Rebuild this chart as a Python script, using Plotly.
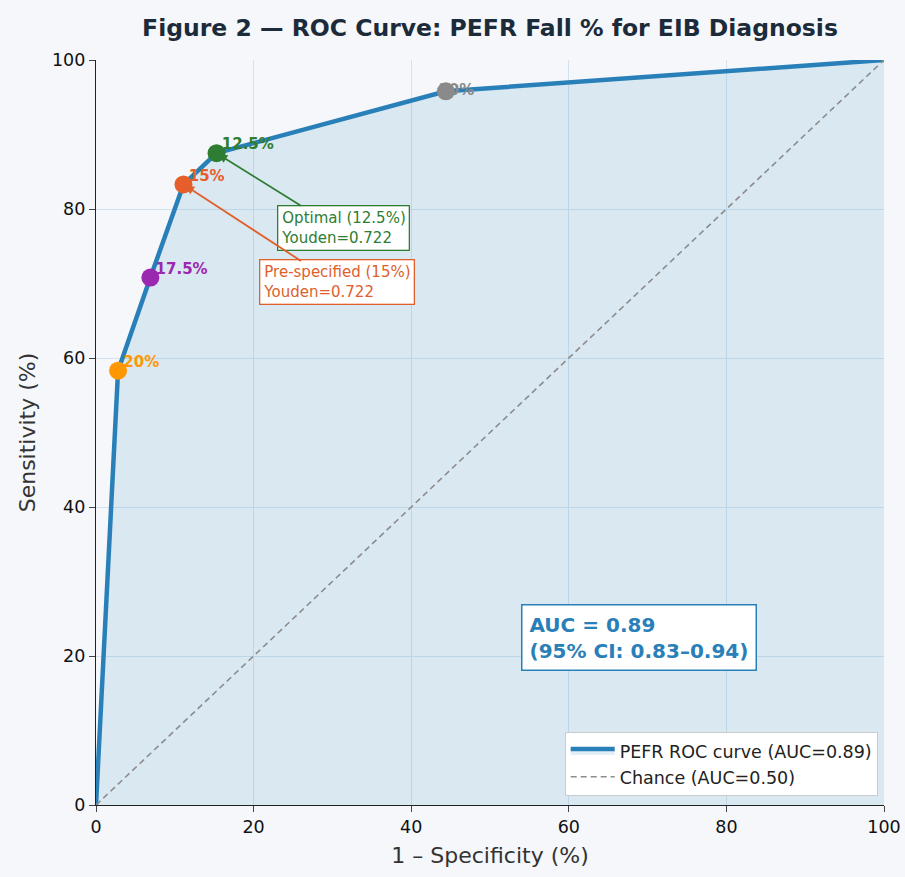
import plotly.graph_objects as go

# ROC data (1 - specificity %, sensitivity %)
roc_fpr = [0, 2.8, 6.9, 11.1, 15.3, 44.4, 100]
roc_tpr = [0, 58.3, 70.8, 83.3, 87.5, 95.8, 100]

# Threshold points
NB = "\u00a0"
thr_labels = [NB + "20%", NB + "17.5%", NB + "15%", NB + "12.5%", NB * 4 + "10%"]
thr_fpr = [2.8, 6.9, 11.1, 15.3, 44.4]
thr_tpr = [58.3, 70.8, 83.3, 87.5, 95.8]
thr_colors = ["#ff9800", "#9c27b0", "#e65f2b", "#2e7d32", "#8a8a8a"]
thr_textpos = ["top right", "top right", "top right", "top right", "middle center"]

chance_x = [0, 100]
chance_y = [0, 100]

x_ticks = [0, 20, 40, 60, 80, 100]
y_ticks = [0, 20, 40, 60, 80, 100]

FONT = "DejaVu Sans"
BLUE = "#2980b9"
GREEN = "#2e7d32"
ORANGE = "#e0602b"

fig = go.Figure()

fig.add_trace(go.Scatter(
    x=roc_fpr, y=roc_tpr, mode="lines",
    line=dict(color=BLUE, width=4.5),
    fill="tozeroy", fillcolor="rgba(41,128,185,0.13)",
    name="PEFR ROC curve (AUC=0.89)",
))
fig.add_trace(go.Scatter(
    x=chance_x, y=chance_y, mode="lines",
    line=dict(color="#8c8c8c", width=1.6, dash="6px,4px"),
    name="Chance (AUC=0.50)",
))
# threshold labels (drawn under markers)
fig.add_trace(go.Scatter(
    x=thr_fpr, y=thr_tpr, mode="text", text=thr_labels,
    textposition=thr_textpos,
    textfont=dict(family=FONT, size=15, color=thr_colors, weight="bold"),
    showlegend=False, hoverinfo="skip", cliponaxis=False,
))
fig.add_trace(go.Scatter(
    x=thr_fpr, y=thr_tpr, mode="markers",
    marker=dict(size=18, color=thr_colors, line=dict(width=0)),
    showlegend=False, cliponaxis=False,
))

annotations = [
    # Optimal box + arrow
    dict(x=31.4, y=77.4, xref="x", yref="y", showarrow=False,
         text="Optimal (12.5%)<br>Youden=0.722", align="left",
         font=dict(family=FONT, size=15, color=GREEN),
         bgcolor="white", bordercolor=GREEN, borderwidth=1.3, borderpad=3),
    dict(x=15.3, y=87.5, ax=26.2, ay=80.3, xref="x", yref="y", axref="x", ayref="y",
         text="", showarrow=True, arrowhead=2, arrowsize=1, arrowwidth=1.8,
         arrowcolor=GREEN, standoff=2),
    # Pre-specified box + arrow
    dict(x=30.6, y=70.2, xref="x", yref="y", showarrow=False,
         text="Pre-specified (15%)<br>Youden=0.722", align="left",
         font=dict(family=FONT, size=15, color=ORANGE),
         bgcolor="white", bordercolor=ORANGE, borderwidth=1.3, borderpad=3),
    dict(x=11.1, y=83.3, ax=26.2, ay=72.9, xref="x", yref="y", axref="x", ayref="y",
         text="", showarrow=True, arrowhead=2, arrowsize=1, arrowwidth=1.8,
         arrowcolor=ORANGE, standoff=2),
    # AUC box
    dict(x=68.9, y=22.5, xref="x", yref="y", showarrow=False,
         text="<b>AUC = 0.89</b><br><b>(95% CI: 0.83–0.94)</b>", align="left",
         font=dict(family=FONT, size=20, color=BLUE),
         bgcolor="white", bordercolor=BLUE, borderwidth=1.5, borderpad=7),
]

fig.update_layout(
    width=905, height=877,
    margin=dict(l=96, r=21, t=60, b=72, autoexpand=False),
    paper_bgcolor="#f5f7fb",
    plot_bgcolor="#f5f7fb",
    font=dict(family=FONT, size=17, color="#222"),
    title=dict(
        text="<b>Figure 2 — ROC Curve: PEFR Fall % for EIB Diagnosis</b>",
        x=0.5, xref="paper", xanchor="center", y=0.968, yanchor="middle",
        font=dict(family=FONT, size=23.5, color="#1c2b3a"),
    ),
    xaxis=dict(
        range=[0, 100], tickvals=x_ticks, ticks="outside", ticklen=6,
        showline=True, linecolor="#222", linewidth=1.3, mirror=False,
        gridcolor="#d3e2ee", gridwidth=1.2, zeroline=False,
        ticklabeloverflow="allow", automargin=False,
        title=dict(text="1 – Specificity (%)", font=dict(size=22, color="#333"), standoff=11),
        tickfont=dict(size=17.5, color="#111"),
    ),
    yaxis=dict(
        range=[0, 100], tickvals=y_ticks, ticks="outside", ticklen=6,
        showline=True, linecolor="#222", linewidth=1.3, mirror=False,
        gridcolor="#d3e2ee", gridwidth=1.2, zeroline=False,
        ticklabeloverflow="allow", automargin=False,
        title=dict(text="Sensitivity (%)", font=dict(size=22, color="#333"), standoff=10),
        tickfont=dict(size=17.5, color="#111"),
    ),
    legend=dict(
        x=0.992, y=0.012, xanchor="right", yanchor="bottom",
        bgcolor="white", bordercolor="#cccccc", borderwidth=1,
        itemwidth=44,
        font=dict(family=FONT, size=17.5, color="#222"),
    ),
    annotations=annotations,
    showlegend=True,
)

fig.write_html(
    "out.html",
    config={"displayModeBar": False},
    post_script="document.body.style.margin='0';document.body.style.overflow='hidden';",
)
